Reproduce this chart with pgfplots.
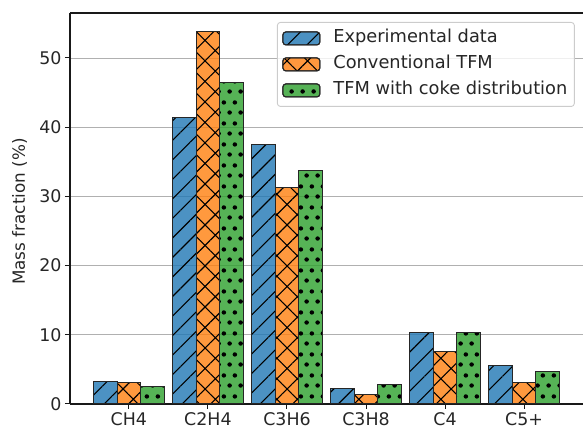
\documentclass[border=0pt]{standalone}
\usepackage{fontspec}
\setmainfont{DejaVu Sans}
\usepackage{pgfplots}
\pgfplotsset{compat=1.18}
\usepackage{pgfplotstable}
\usetikzlibrary{patterns,patterns.meta}

\definecolor{tabblue}{HTML}{1F77B4}
\definecolor{taborange}{HTML}{FF7F0E}
\definecolor{tabgreen}{HTML}{2CA02C}
\definecolor{gridgray}{HTML}{B0B0B0}
\definecolor{legframe}{HTML}{CCCCCC}

% staggered small dots, like the '.' hatch
\pgfdeclarepatternformonly{stagdots}{\pgfpoint{0pt}{0pt}}{\pgfpoint{10.7pt}{21pt}}{\pgfpoint{10.7pt}{21pt}}{%
  \pgfpathcircle{\pgfpoint{2.7pt}{2.6pt}}{2.3pt}%
  \pgfpathcircle{\pgfpoint{8.05pt}{13.1pt}}{2.3pt}%
  \pgfusepath{fill}}

\pgfplotstableread{
x   exp   conv  coke
0   3.3   3.1   2.5
1   41.4  53.8  46.4
2   37.5  31.3  33.7
3   2.3   1.4   2.8
4   10.3  7.6   10.4
5   5.5   3.05  4.7
}\datatable

\begin{document}
\begin{tikzpicture}
\path[use as bounding box] (-70pt,-26pt) rectangle (514pt,404pt);
\begin{axis}[
  at={(0pt,0pt)}, anchor=south west,
  scale only axis, width=513pt, height=391pt,
  xmin=-0.745, xmax=5.745, ymin=0, ymax=56.5,
  axis x line*=bottom, axis y line*=left,
  axis line style={-, line width=1.1pt, black!90},
  xtick={0,...,5},
  xticklabels={CH4,C2H4,C3H6,C3H8,C4,C5+},
  ytick={0,10,...,50},
  tick align=outside, major tick length=5pt,
  tick style={line width=1pt, black!90},
  /pgf/number format/assume math mode=true,
  ticklabel style={font=\fontsize{17.4}{20}\selectfont, text=black!85},
  ymajorgrids, grid style={gridgray, line width=0.9pt},
  ylabel={\fontsize{16.8}{20}\selectfont Mass fraction (\%)},
  ylabel style={at={(axis description cs:-0.0984,0.492)}, anchor=center, text=black!85},
  ybar, bar width=0.3,
  every axis plot/.append style={draw=black!85, line width=1pt},
  legend cell align=left,
  legend image code/.code={\draw[#1] (0pt,-6.5pt) rectangle (37pt,6.5pt);},
  legend style={at={(axis description cs:0.984,0.977)}, anchor=north east,
    draw=legframe, line width=0.9pt, rounded corners=3pt, fill=white, fill opacity=0.8, text opacity=1,
    inner xsep=5pt, inner ysep=6pt, row sep=6pt,
    font=\fontsize{17.8}{20}\selectfont, text=black!85,
    nodes={text height=12.5pt, text depth=3.5pt, inner sep=2pt},
    /tikz/every odd column/.append style={column sep=11pt}},
]
\addplot[fill=tabblue, fill opacity=0.8, bar shift=-0.3,
  postaction={fill opacity=1, pattern={Lines[angle=45,distance=13.8pt,line width=1.1pt]}, pattern color=black}]
  table[x=x, y=exp] {\datatable};
\addlegendentry{Experimental data}
\addplot[fill=taborange, fill opacity=0.8, bar shift=0,
  postaction={fill opacity=1, pattern={Hatch[angle=45,distance=14.5pt,line width=1.1pt]}, pattern color=black}]
  table[x=x, y=conv] {\datatable};
\addlegendentry{Conventional TFM}
\addplot[fill=tabgreen, fill opacity=0.8, bar shift=0.3,
  postaction={fill opacity=1, pattern=stagdots, pattern color=black}]
  table[x=x, y=coke] {\datatable};
\addlegendentry{TFM with coke distribution}
\draw[line width=1.1pt, black!90] (rel axis cs:0,1) -- (rel axis cs:1,1);
\end{axis}
\end{tikzpicture}
\end{document}
